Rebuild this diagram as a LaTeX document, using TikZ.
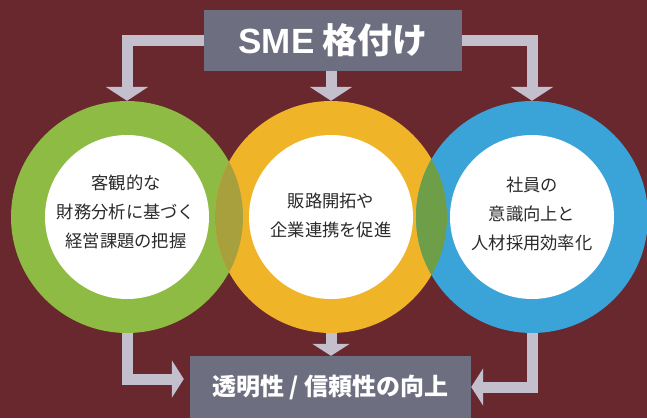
\documentclass[tikz,border=0pt]{standalone}
\usepackage{fontspec}
\setmainfont{Noto Sans CJK JP}
\newfontfamily\latinb{Liberation Sans}
\usetikzlibrary{arrows.meta}
\definecolor{bgc}{HTML}{68282D}
\definecolor{boxc}{HTML}{6D6E80}
\definecolor{arrc}{HTML}{C3BFCC}
\definecolor{grn}{HTML}{8DBB43}
\definecolor{yel}{HTML}{F0B429}
\definecolor{blu}{HTML}{3AA3D8}
\definecolor{lensgy}{HTML}{A8A03D}
\definecolor{lensyb}{HTML}{6F9E49}
\definecolor{txt}{HTML}{2A2A2A}
\tikzset{
  ring/.style={circle, minimum size=232bp, inner sep=0pt},
  hole/.style={circle, fill=white, minimum size=164bp, inner sep=0pt},
  ctext/.style={align=center, text=txt, inner sep=0pt, font=\fontsize{17.3bp}{29bp}\selectfont},
  graybox/.style={fill=boxc, inner sep=0pt, text=white},
  conn/.style={draw=arrc, line width=11bp, line join=miter, -{Triangle[length=14bp,width=42bp]}},
  connb/.style={draw=arrc, line width=11bp, line join=miter, -{Triangle[length=12bp,width=37bp]}}
}
\begin{document}
\begin{tikzpicture}[x=1bp,y=-1bp]
\useasboundingbox (0,0) rectangle (647,418);
\fill[bgc] (0,0) rectangle (647,418);

% circles
\node[ring, fill=grn] (cg) at (127,217) {};
\node[ring, fill=yel] (cy) at (331,217) {};
\node[ring, fill=blu] (cb) at (532,217) {};
\begin{scope}
  \clip (cg.center) circle [radius=116bp];
  \fill[lensgy] (cy.center) circle [radius=116bp];
\end{scope}
\begin{scope}
  \clip (cy.center) circle [radius=116bp];
  \fill[lensyb] (cb.center) circle [radius=116bp];
\end{scope}
\node[hole] (hg) at (cg.center) {};
\node[hole] (hy) at (cy.center) {};
\node[hole] (hb) at (cb.center) {};
\node[ctext] (tg) at (126,212) {客観的な\\財務分析に基づく\\経営課題の把握};
\node[ctext] (ty) at (331,215) {販路開拓や\\企業連携を促進};
\node[ctext] (tb) at (532,214) {社員の\\意識向上と\\人材採用効率化};

% boxes
\node[graybox, minimum width=258bp, minimum height=61bp, font=\bfseries\fontsize{35bp}{40bp}\selectfont] (sme) at (333,40.5) {{\latinb\bfseries SME} 格付け};
\node[graybox, minimum width=281bp, minimum height=62bp, font=\bfseries\fontsize{24bp}{28bp}\selectfont] (res) at (330.5,387) {透明性 / 信頼性の向上};

% connectors
\draw[conn] (sme.west) -| (cg.north);
\draw[conn] (sme.south -| cy.north) -- (cy.north);
\draw[conn] (sme.east) -| (cb.north);
\draw[connb] (cy.south) -- (cy.south |- res.north);
\draw[connb, shorten >=6bp] (cg.south) |- ([yshift=8bp]res.west);
\draw[connb] (cb.south) |- (res.east);
\end{tikzpicture}
\end{document}
